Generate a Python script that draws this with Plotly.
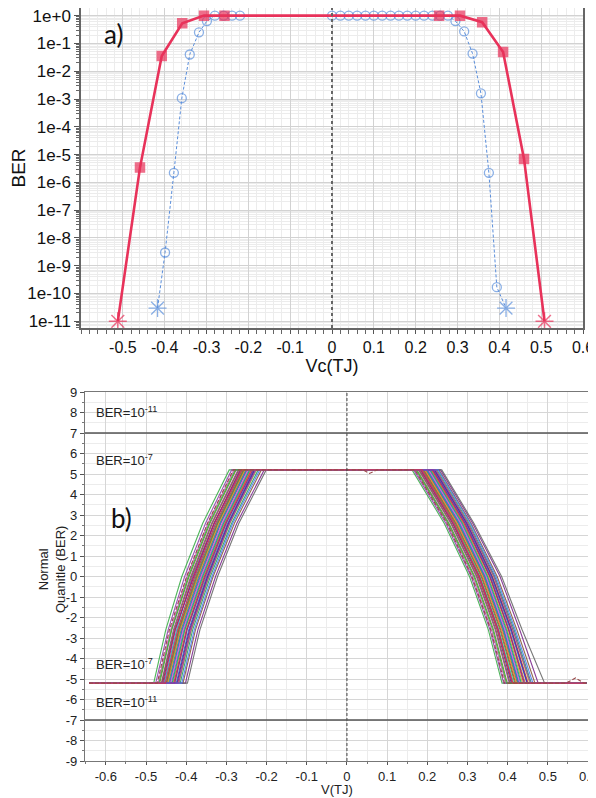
import plotly.graph_objects as go

# ---------------- (a) BER vs Vc(TJ) ----------------
red_v = [-0.512, -0.459, -0.407, -0.358, -0.306, -0.257, 0.256, 0.306, 0.359, 0.409, 0.459, 0.508]
red_ber = [1e-11, 3.4e-6, 3.5e-2, 0.53, 1.0, 1.0, 1.0, 1.0, 0.58, 0.049, 7.0e-6, 1e-11]

blue_v = [-0.417, -0.399, -0.378, -0.359, -0.340, -0.318, -0.299, -0.280, -0.259, -0.239, -0.220,
          0.000, 0.020, 0.040, 0.060, 0.080, 0.100, 0.120, 0.140, 0.160, 0.180, 0.200, 0.220, 0.240,
          0.258, 0.277, 0.295, 0.316, 0.336, 0.356, 0.375, 0.394, 0.416]
blue_ber = [3e-11, 3e-9, 2.2e-6, 1.07e-3, 0.04, 0.25, 0.64, 1.0, 1.0, 1.0, 1.0,
            1.0, 1.0, 1.0, 1.0, 1.0, 1.0, 1.0, 1.0, 1.0, 1.0, 1.0, 1.0, 1.0,
            1.0, 1.0, 0.64, 0.27, 0.043, 1.6e-3, 2.2e-6, 1.7e-10, 3e-11]

top_xtick_vals = [-0.5, -0.4, -0.3, -0.2, -0.1, 0.0, 0.1, 0.2, 0.3, 0.4, 0.5, 0.6]
top_xtick_text = ["-0.5", "-0.4", "-0.3", "-0.2", "-0.1", "0", "0.1", "0.2", "0.3", "0.4", "0.5", "0.6"]
top_ytick_vals = [1e0, 1e-1, 1e-2, 1e-3, 1e-4, 1e-5, 1e-6, 1e-7, 1e-8, 1e-9, 1e-10, 1e-11]
top_ytick_text = ["1e+0", "1e-1", "1e-2", "1e-3", "1e-4", "1e-5", "1e-6", "1e-7", "1e-8", "1e-9", "1e-10", "1e-11"]

# ---------------- (b) Normal quantile (BER) vs V(TJ) ----------------
q_low = -5.2
q_high = 5.2
q_lo_mid = -2.6
q_hi_mid = 2.6
v_start = -0.642
v_end = 0.596
# crossing voltages of each Monte-Carlo curve at q = -5.2, -2.6, 0, 2.6, 5.2 (left edge)
lf = [-0.481, -0.447, -0.462, -0.421, -0.455, -0.433, -0.470, -0.408, -0.441, -0.428, -0.459, -0.415,
      -0.450, -0.437, -0.466, -0.402, -0.444, -0.425, -0.476, -0.431, -0.453, -0.418, -0.439, -0.461,
      -0.397, -0.446, -0.423, -0.435, -0.457, -0.411, -0.449, -0.429, -0.468, -0.442, -0.419, -0.452]
l_lo = [-0.451, -0.416, -0.432, -0.390, -0.424, -0.403, -0.439, -0.377, -0.410, -0.398, -0.428, -0.384,
        -0.419, -0.406, -0.436, -0.371, -0.413, -0.394, -0.445, -0.400, -0.422, -0.387, -0.408, -0.430,
        -0.366, -0.415, -0.392, -0.404, -0.427, -0.380, -0.418, -0.398, -0.437, -0.411, -0.388, -0.421]
lm = [-0.411, -0.372, -0.389, -0.346, -0.385, -0.357, -0.398, -0.333, -0.365, -0.351, -0.381, -0.340,
      -0.376, -0.361, -0.393, -0.327, -0.369, -0.349, -0.404, -0.355, -0.378, -0.343, -0.363, -0.387,
      -0.322, -0.371, -0.347, -0.359, -0.383, -0.336, -0.374, -0.353, -0.395, -0.367, -0.344, -0.379]
l_hi = [-0.359, -0.321, -0.337, -0.294, -0.331, -0.305, -0.346, -0.280, -0.314, -0.300, -0.330, -0.287,
        -0.324, -0.309, -0.341, -0.274, -0.317, -0.297, -0.352, -0.303, -0.326, -0.291, -0.311, -0.335,
        -0.269, -0.319, -0.295, -0.307, -0.331, -0.284, -0.322, -0.301, -0.343, -0.315, -0.292, -0.327]
lt = [-0.293, -0.255, -0.271, -0.229, -0.262, -0.240, -0.281, -0.213, -0.249, -0.236, -0.266, -0.221,
      -0.258, -0.244, -0.276, -0.206, -0.252, -0.232, -0.287, -0.238, -0.260, -0.225, -0.246, -0.269,
      -0.201, -0.254, -0.230, -0.242, -0.264, -0.217, -0.257, -0.234, -0.278, -0.250, -0.227, -0.261]
# crossing voltages at q = 5.2, 2.6, 0, -2.6, -5.2 (right edge)
rt = [0.162, 0.201, 0.178, 0.219, 0.188, 0.209, 0.170, 0.229, 0.196, 0.213, 0.183, 0.224,
      0.192, 0.205, 0.174, 0.233, 0.198, 0.216, 0.166, 0.211, 0.186, 0.222, 0.203, 0.180,
      0.236, 0.194, 0.218, 0.207, 0.184, 0.227, 0.190, 0.214, 0.172, 0.199, 0.221, 0.187]
r_hi = [0.242, 0.281, 0.258, 0.299, 0.268, 0.289, 0.250, 0.309, 0.276, 0.293, 0.263, 0.304,
        0.272, 0.285, 0.254, 0.313, 0.278, 0.296, 0.246, 0.291, 0.266, 0.302, 0.283, 0.260,
        0.316, 0.274, 0.298, 0.287, 0.264, 0.307, 0.270, 0.294, 0.252, 0.279, 0.301, 0.267]
rm = [0.305, 0.344, 0.322, 0.362, 0.331, 0.352, 0.313, 0.374, 0.340, 0.357, 0.327, 0.368,
      0.336, 0.348, 0.318, 0.381, 0.342, 0.359, 0.309, 0.355, 0.329, 0.365, 0.346, 0.324,
      0.385, 0.338, 0.361, 0.350, 0.330, 0.371, 0.334, 0.356, 0.316, 0.343, 0.366, 0.328]
r_lo = [0.352, 0.391, 0.369, 0.410, 0.378, 0.399, 0.360, 0.423, 0.387, 0.404, 0.374, 0.416,
        0.383, 0.395, 0.365, 0.430, 0.389, 0.407, 0.356, 0.402, 0.376, 0.413, 0.393, 0.371,
        0.436, 0.385, 0.409, 0.397, 0.377, 0.419, 0.381, 0.403, 0.363, 0.390, 0.413, 0.375]
rf = [0.386, 0.428, 0.404, 0.451, 0.415, 0.437, 0.395, 0.468, 0.424, 0.444, 0.409, 0.459,
      0.420, 0.432, 0.399, 0.476, 0.426, 0.448, 0.390, 0.440, 0.412, 0.455, 0.430, 0.406,
      0.492, 0.422, 0.449, 0.434, 0.411, 0.463, 0.418, 0.442, 0.397, 0.427, 0.457, 0.413]
curve_colors = ["#3cae4a", "#3a6fd0", "#8e44ad", "#d8344a", "#2bb5c0", "#b5b52a", "#e056c8", "#8b5a3c",
                "#6a6a6a", "#f08a24", "#4b2a9a", "#1f9e74", "#c2186a", "#4f7bea", "#6b8e23", "#7d2a8e"]

# special curve (drawn dashed, with small glitches)
special_v = [-0.642, -0.472, -0.442, -0.399, -0.347, -0.283, 0.040, 0.056, 0.075,
             0.169, 0.249, 0.311, 0.358, 0.392, 0.545, 0.569, 0.590, 0.596]
special_q = [-5.2, -5.2, -2.6, 0.0, 2.6, 5.2, 5.2, 5.03, 5.2,
             5.2, 2.6, 0.0, -2.6, -5.2, -5.2, -4.95, -5.2, -5.2]

bot_xtick_vals = [-0.6, -0.5, -0.4, -0.3, -0.2, -0.1, 0.0, 0.1, 0.2, 0.3, 0.4, 0.5, 0.6]
bot_xtick_text = ["-0.6", "-0.5", "-0.4", "-0.3", "-0.2", "-0.1", "0", "0.1", "0.2", "0.3", "0.4", "0.5", "0.6"]
bot_ytick_vals = [9, 8, 7, 6, 5, 4, 3, 2, 1, 0, -1, -2, -3, -4, -5, -6, -7, -8, -9]
bot_ytick_text = ["9", "8", "7", "6", "5", "4", "3", "2", "1", "0",
                  "-1", "-2", "-3", "-4", "-5", "-6", "-7", "-8", "-9"]

FONT = "Liberation Sans, Arial, Helvetica, sans-serif"
RED = "#e8325a"
BLUE = "#5a8edb"

# page offset (body margin) compensation
W, H, OFF = 596, 790, 8


def dx(p):
    return min(1.0, max(0.0, (p - OFF) / W))


def dy(p):
    return min(1.0, max(0.0, 1 - (p - OFF) / H))


fig = go.Figure()

# --- top plot traces
n_b = len(blue_v)
fig.add_trace(go.Scatter(
    x=blue_v, y=blue_ber, mode="lines+markers", xaxis="x", yaxis="y",
    line=dict(color=BLUE, width=1, dash="3px,2px"),
    marker=dict(symbol=["asterisk-open"] + ["circle-open"] * (n_b - 2) + ["asterisk-open"],
                size=[15] + [9] * (n_b - 2) + [15],
                color=BLUE, line=dict(color=BLUE, width=1.3)),
    showlegend=False, hoverinfo="skip"))
n_r = len(red_v)
fig.add_trace(go.Scatter(
    x=red_v, y=red_ber, mode="lines+markers", xaxis="x", yaxis="y",
    line=dict(color=RED, width=2.6),
    marker=dict(symbol=["asterisk-open"] + ["square"] * (n_r - 2) + ["asterisk-open"],
                size=[15] + [9] * (n_r - 2) + [15],
                color=RED, line=dict(color=RED, width=1.5)),
    showlegend=False, hoverinfo="skip"))

# --- bottom plot traces
for i in range(len(lf)):
    xs = [v_start, lf[i], l_lo[i], lm[i], l_hi[i], lt[i], rt[i], r_hi[i], rm[i], r_lo[i], rf[i], v_end]
    ys = [q_low, q_low, q_lo_mid, 0.0, q_hi_mid, q_high, q_high, q_hi_mid, 0.0, q_lo_mid, q_low, q_low]
    fig.add_trace(go.Scatter(
        x=xs, y=ys, mode="lines", xaxis="x2", yaxis="y2",
        line=dict(color=curve_colors[i % len(curve_colors)], width=1.1),
        opacity=0.9, showlegend=False, hoverinfo="skip"))
fig.add_trace(go.Scatter(
    x=special_v, y=special_q, mode="lines", xaxis="x2", yaxis="y2",
    line=dict(color="#9a4a4a", width=1.1, dash="4px,2px"),
    showlegend=False, hoverinfo="skip"))

minor_log = [k * 10.0 ** e for e in range(-12, 1) for k in range(2, 10)]

axis_common = dict(showline=True, linecolor="#666", linewidth=1.5, mirror=True,
                   ticks="outside", tickcolor="#555", zeroline=False, automargin=False,
                   ticklabeloverflow="allow")

fig.update_layout(
    width=W, height=H, autosize=False,
    margin=dict(l=0, r=0, t=0, b=0),
    paper_bgcolor="white", plot_bgcolor="white",
    font=dict(family=FONT, color="#111"),
    xaxis=dict(axis_common, domain=[dx(81), dx(583)], anchor="y", range=[-0.6, 0.6],
               tickmode="array", tickvals=top_xtick_vals, ticktext=top_xtick_text,
               tickfont=dict(family=FONT, size=16, color="#111"), ticklen=4,
               showgrid=True, gridcolor="#d2d2d2", gridwidth=1,
               minor=dict(tickmode="linear", tick0=0, dtick=0.02, ticks="outside", ticklen=4,
                          tickcolor="#666", showgrid=True, gridcolor="#ececec"),
               title=dict(text="Vc(TJ)", font=dict(family=FONT, size=18, color="#111"), standoff=3)),
    yaxis=dict(axis_common, domain=[dy(328), dy(8)], anchor="x", type="log",
               range=[-11.24, 0.275],
               tickmode="array", tickvals=top_ytick_vals, ticktext=top_ytick_text,
               tickfont=dict(family=FONT, size=17, color="#111"), ticklen=5,
               showgrid=True, gridcolor="#d2d2d2", gridwidth=1,
               minor=dict(tickmode="array", tickvals=minor_log, ticks="outside", ticklen=3,
                          tickcolor="#666", showgrid=True, gridcolor="#ececec"),
               title=dict(text="BER", font=dict(family=FONT, size=19, color="#111"), standoff=2)),
    xaxis2=dict(axis_common, domain=[dx(85), dx(588)], anchor="y2", range=[-0.652, 0.6],
                linecolor="#777", linewidth=1.2,
                tickmode="array", tickvals=bot_xtick_vals, ticktext=bot_xtick_text,
                tickfont=dict(family=FONT, size=13, color="#222"), ticklen=3,
                showgrid=True, gridcolor="#d6d6d6", gridwidth=1,
                minor=dict(tickmode="linear", tick0=0, dtick=0.05, ticks="outside", ticklen=2,
                           tickcolor="#777", showgrid=True, gridcolor="#ececec")),
    yaxis2=dict(axis_common, domain=[dy(761), dy(392)], anchor="x2", range=[-9, 9],
                linecolor="#777", linewidth=1.2,
                tickmode="array", tickvals=bot_ytick_vals, ticktext=bot_ytick_text,
                tickfont=dict(family=FONT, size=13, color="#222"), ticklen=4,
                showgrid=True, gridcolor="#d6d6d6", gridwidth=1,
                minor=dict(tickmode="linear", tick0=0, dtick=0.5, ticks="outside", ticklen=2,
                           tickcolor="#777", showgrid=True, gridcolor="#ececec")),
    shapes=[
        dict(type="line", xref="x", yref="y domain", x0=0, x1=0, y0=0, y1=1, layer="above",
             line=dict(color="#666", width=2, dash="dot")),
        dict(type="line", xref="x2", yref="y2 domain", x0=0, x1=0, y0=0, y1=1, layer="above",
             line=dict(color="#444", width=1, dash="3px,2px")),
        dict(type="line", xref="x2 domain", yref="y2", x0=0, x1=1, y0=7, y1=7, layer="above",
             line=dict(color="#555", width=1.3)),
        dict(type="line", xref="x2 domain", yref="y2", x0=0, x1=1, y0=-7, y1=-7, layer="above",
             line=dict(color="#555", width=1.3)),
    ],
    annotations=[
        dict(text="a)", xref="paper", yref="paper", x=dx(113), y=dy(34), xanchor="center", yanchor="middle",
             showarrow=False, font=dict(family="Lato, Open Sans, sans-serif", size=26, color="#111")),
        dict(text="b)", xref="paper", yref="paper", x=dx(121), y=dy(518), xanchor="center", yanchor="middle",
             showarrow=False, font=dict(family="Lato, Open Sans, sans-serif", size=26, color="#111")),
        dict(text="Normal<br>Quanitle (BER)", xref="paper", yref="paper", x=dx(52), y=dy(570),
             xanchor="center", yanchor="middle", textangle=-90, showarrow=False,
             font=dict(family=FONT, size=13, color="#222")),
        dict(text="V(TJ)", xref="paper", yref="paper", x=dx(337), y=dy(789),
             xanchor="center", yanchor="middle", showarrow=False,
             font=dict(family=FONT, size=13, color="#222")),
        dict(text="BER=10<sup>-11</sup>", xref="x2", yref="y2", x=-0.63, y=8.0, xanchor="left",
             showarrow=False, font=dict(family=FONT, size=13, color="#222")),
        dict(text="BER=10<sup>-7</sup>", xref="x2", yref="y2", x=-0.63, y=5.7, xanchor="left",
             showarrow=False, font=dict(family=FONT, size=13, color="#222")),
        dict(text="BER=10<sup>-7</sup>", xref="x2", yref="y2", x=-0.63, y=-4.25, xanchor="left",
             showarrow=False, font=dict(family=FONT, size=13, color="#222")),
        dict(text="BER=10<sup>-11</sup>", xref="x2", yref="y2", x=-0.63, y=-6.13, xanchor="left",
             showarrow=False, font=dict(family=FONT, size=13, color="#222")),
    ],
)

fig.write_html("out.html")
